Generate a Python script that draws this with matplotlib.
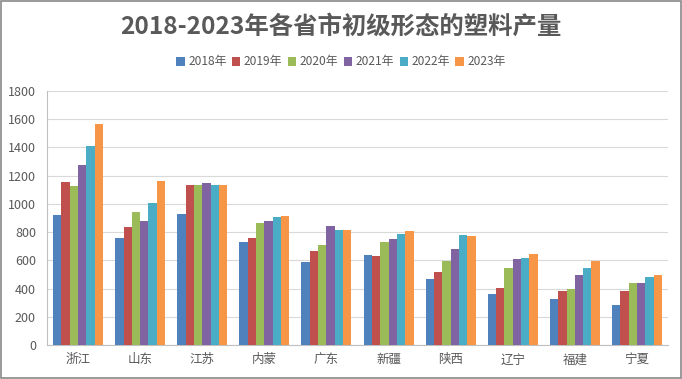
import numpy as np
import matplotlib
matplotlib.use('Agg')
import matplotlib.pyplot as plt
from matplotlib.patches import Rectangle

plt.rcParams['font.family'] = ['Noto Sans CJK SC', 'DejaVu Sans']

# 数据
provinces = ['浙江', '山东', '江苏', '内蒙', '广东', '新疆', '陕西', '辽宁', '福建', '宁夏']
years = ['2018年', '2019年', '2020年', '2021年', '2022年', '2023年']
v2018 = [922, 760, 929, 727, 591, 641, 470, 359, 324, 281]
v2019 = [1156, 837, 1135, 755, 663, 634, 515, 402, 381, 381]
v2020 = [1128, 944, 1135, 862, 712, 727, 593, 545, 395, 438]
v2021 = [1276, 880, 1149, 876, 841, 748, 679, 609, 495, 438]
v2022 = [1411, 1007, 1135, 905, 812, 784, 779, 616, 545, 481]
v2023 = [1566, 1163, 1135, 912, 812, 805, 774, 645, 595, 495]
series = [v2018, v2019, v2020, v2021, v2022, v2023]
colors = ['#4F81BD', '#C0504D', '#9BBB59', '#8064A2', '#4BACC6', '#F79646']

fig = plt.figure(figsize=(6.82, 3.79), dpi=100)
ax = fig.add_axes([47 / 682, 1 - 345 / 379, 621 / 682, 254 / 379])

x = np.arange(len(provinces))
w = 0.134
for i, (vals, c, lab) in enumerate(zip(series, colors, years)):
    ax.bar(x + (i - 2.5) * w, vals, width=w, color=c, label=lab, zorder=3)

ax.set_xlim(-0.5, len(provinces) - 0.5)
ax.set_ylim(0, 1800)
ax.set_yticks(range(0, 1801, 200))
ax.set_xticks(x)
ax.set_xticklabels(provinces)
ax.tick_params(axis='both', length=0, labelsize=9, colors='#595959')
ax.tick_params(axis='y', pad=8)
ax.tick_params(axis='x', pad=6)
ax.grid(axis='y', color='#D9D9D9', linewidth=0.8, zorder=0)
for s in ['top', 'right']:
    ax.spines[s].set_visible(False)
ax.spines['left'].set_color('#BFBFBF')
ax.spines['bottom'].set_color('#BFBFBF')

fig.text(0.5, 1 - 27 / 379, '2018-2023年各省市初级形态的塑料产量', ha='center', va='center',
         fontsize=17.6, fontweight='bold', color='#595959')
leg = fig.legend(loc='center', bbox_to_anchor=(0.5, 1 - 62 / 379), ncol=6, frameon=False,
                 fontsize=8.6, handlelength=0.7, handleheight=0.7, handletextpad=0.3,
                 columnspacing=0.45, labelcolor='#595959')

fig.patches.append(Rectangle((0.001, 0.002), 0.997, 0.995, transform=fig.transFigure,
                             fill=False, edgecolor='#898989', linewidth=1.2))

fig.savefig('out.png', dpi=100)
